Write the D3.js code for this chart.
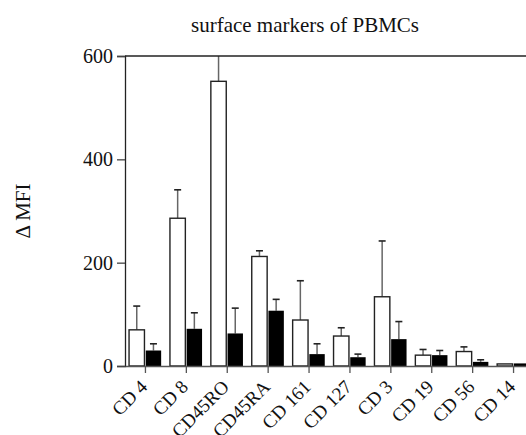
<!DOCTYPE html>
<html>
<head>
<meta charset="utf-8">
<script src="https://cdn.jsdelivr.net/npm/d3@7"></script>
<style>
  body { margin: 0; background: #fff; }
  text { font-family: "Liberation Serif", "DejaVu Serif", serif; }
</style>
</head>
<body>
<div id="chart"></div>
<script>
// Data
const markers = ["CD 4", "CD 8", "CD45RO", "CD45RA", "CD 161", "CD 127", "CD 3", "CD 19", "CD 56", "CD 14"];
const whiteMean = [70, 286, 551, 212, 89, 58, 134, 21, 28, 4];
const whiteErr  = [116, 341, 640, 223, 165, 74, 242, 32, 37, 4];
const blackMean = [30, 72, 63, 107, 23, 17, 52, 21, 8, 5];
const blackErr  = [43, 103, 112, 129, 43, 23, 86, 30, 12, 5];
const yTicks = [0, 200, 400, 600];

const width = 526, height = 435;
const margin = { top: 56, left: 125, bottom: 69 };

const svg = d3.select('#chart').append('svg')
    .attr('width', width)
    .attr('height', height);

const x = d3.scaleBand()
    .domain(markers)
    .range([margin.left, margin.left + markers.length * 40.9])
    .paddingInner(0)
    .paddingOuter(0);

const y = d3.scaleLinear()
    .domain([0, 600])
    .range([height - margin.bottom, margin.top]);

const barW = 15.4;

svg.append('defs').append('clipPath').attr('id', 'plot')
    .append('rect')
    .attr('x', margin.left).attr('y', margin.top)
    .attr('width', width - margin.left).attr('height', y(0) - margin.top);

const g = svg.append('g').attr('clip-path', 'url(#plot)');

// error bars first (stems drawn behind bars)
function errBars(means, errs, offset, key) {
    const eb = g.selectAll('g.err-' + key)
        .data(markers)
        .enter().append('g')
        .attr('class', 'err-' + key);
    eb.append('line')
        .attr('x1', d => x(d) + x.bandwidth() / 2 + offset)
        .attr('x2', d => x(d) + x.bandwidth() / 2 + offset)
        .attr('y1', (d, i) => y(means[i]))
        .attr('y2', (d, i) => y(errs[i]))
        .attr('stroke', '#666')
        .attr('stroke-width', 1.5);
    eb.filter((d, i) => errs[i] > means[i] && errs[i] < 600)
        .append('line')
        .attr('x1', d => x(d) + x.bandwidth() / 2 + offset - 3.5)
        .attr('x2', d => x(d) + x.bandwidth() / 2 + offset + 3.5)
        .attr('y1', d => y(errs[markers.indexOf(d)]))
        .attr('y2', d => y(errs[markers.indexOf(d)]))
        .attr('stroke', '#222')
        .attr('stroke-width', 1.6);
}
errBars(whiteMean, whiteErr, -barW / 2 - 1, 'w');
errBars(blackMean, blackErr, barW / 2 + 0.3, 'b');

// white bars
g.selectAll('rect.white')
    .data(markers)
    .enter().append('rect')
    .attr('class', 'white')
    .attr('x', d => x(d) + x.bandwidth() / 2 - barW - 1)
    .attr('width', barW)
    .attr('y', (d, i) => y(whiteMean[i]))
    .attr('height', (d, i) => y(0) - y(whiteMean[i]))
    .attr('fill', '#fff')
    .attr('stroke', '#222')
    .attr('stroke-width', 1.4);

// black bars
g.selectAll('rect.black')
    .data(markers)
    .enter().append('rect')
    .attr('class', 'black')
    .attr('x', d => x(d) + x.bandwidth() / 2 + 0.3)
    .attr('width', barW)
    .attr('y', (d, i) => y(blackMean[i]))
    .attr('height', (d, i) => y(0) - y(blackMean[i]))
    .attr('fill', '#000');

// top frame line
svg.append('line')
    .attr('x1', margin.left).attr('x2', width)
    .attr('y1', y(600)).attr('y2', y(600))
    .attr('stroke', '#222').attr('stroke-width', 1.3);

// y axis
const yAxis = svg.append('g')
    .attr('transform', `translate(${margin.left},0)`)
    .call(d3.axisLeft(y).tickValues(yTicks).tickSize(8).tickPadding(4));
yAxis.select('.domain').attr('stroke', '#222').attr('stroke-width', 1.3);
yAxis.selectAll('.tick line').attr('stroke', '#444').attr('stroke-width', 1.3);
yAxis.selectAll('text').attr('font-size', 20).attr('fill', '#111')
    .attr('font-family', '"Liberation Serif", serif');

// x axis
const xAxis = svg.append('g')
    .attr('transform', `translate(0,${y(0)})`)
    .call(d3.axisBottom(x).tickSize(7).tickSizeOuter(0));
xAxis.select('.domain').attr('stroke', '#555').attr('stroke-width', 1.3);
xAxis.selectAll('.tick line').attr('stroke', '#555').attr('stroke-width', 1.3);
xAxis.selectAll('text')
    .attr('font-size', 19).attr('fill', '#111')
    .attr('font-family', '"Liberation Serif", serif')
    .attr('text-anchor', 'end')
    .attr('x', 0).attr('y', 0).attr('dy', 0)
    .attr('transform', 'translate(3,22) rotate(-45)');

// title
svg.append('text')
    .attr('x', 305).attr('y', 32)
    .attr('text-anchor', 'middle')
    .attr('font-size', 21)
    .attr('fill', '#111')
    .text('surface markers of PBMCs');

// y label
svg.append('text')
    .attr('transform', `translate(30,211) rotate(-90)`)
    .attr('text-anchor', 'middle')
    .attr('font-size', 21)
    .attr('fill', '#111')
    .text('Δ MFI');
</script>
</body>
</html>
